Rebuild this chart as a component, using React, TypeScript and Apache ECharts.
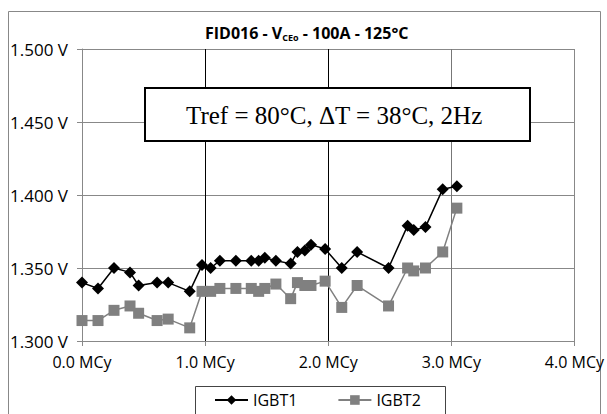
import React, { useEffect, useRef } from "react";
import * as echarts from "echarts";

const cycles = [0.0, 0.13, 0.26, 0.39, 0.46, 0.61, 0.7, 0.875, 0.975, 1.045, 1.12, 1.25, 1.375, 1.435, 1.485, 1.575, 1.695, 1.75, 1.81, 1.86, 1.975, 2.11, 2.235, 2.49, 2.645, 2.695, 2.79, 2.93, 3.045];
const igbt1 = [1.340, 1.336, 1.350, 1.347, 1.338, 1.340, 1.340, 1.334, 1.352, 1.350, 1.355, 1.355, 1.355, 1.355, 1.357, 1.355, 1.353, 1.361, 1.362, 1.366, 1.363, 1.350, 1.361, 1.350, 1.379, 1.376, 1.378, 1.404, 1.406];
const igbt2 = [1.314, 1.314, 1.321, 1.324, 1.319, 1.314, 1.315, 1.309, 1.334, 1.334, 1.336, 1.336, 1.336, 1.334, 1.336, 1.339, 1.329, 1.340, 1.338, 1.338, 1.341, 1.323, 1.338, 1.324, 1.350, 1.348, 1.350, 1.361, 1.391];
const seriesNames = ["IGBT1", "IGBT2"];
const annotation = "Tref = 80°C, ΔT = 38°C, 2Hz";

const FONT = "'Open Sans', 'Noto Sans', sans-serif";

export default function App() {
  const ref = useRef<HTMLDivElement>(null);
  useEffect(() => {
    if (!ref.current) return;
    const chart = echarts.init(ref.current, undefined, { renderer: "svg" });
    chart.setOption({
      animation: false,
      backgroundColor: "#fff",
      title: {
        text: "{b|FID016 - V}{s|CEo}{b| - 100A - 125°C}",
        left: 200,
        top: 19,
        textStyle: {
          rich: {
            b: { fontFamily: FONT, fontWeight: "bold", fontSize: 16, color: "#000" },
            s: { fontFamily: FONT, fontWeight: "bold", fontSize: 9, color: "#000", verticalAlign: "bottom", padding: [9, 0, 0, 0] },
          },
        },
      },
      grid: { left: 82, right: 32, top: 49, bottom: 73, containLabel: false },
      xAxis: {
        type: "value",
        min: 0,
        max: 4,
        interval: 1,
        axisLine: { show: true, lineStyle: { color: "#888", width: 1 } },
        axisTick: { show: true, length: 5, lineStyle: { color: "#888" } },
        axisLabel: {
          margin: 13,
          fontFamily: FONT,
          fontSize: 16,
          color: "#000",
          formatter: (v: number) => v.toFixed(1) + " MCy",
        },
        splitLine: { show: true, lineStyle: { color: ["#888", "#000", "#000", "#777", "#888"], width: 1 } },
      },
      yAxis: {
        type: "value",
        min: 1.3,
        max: 1.5,
        interval: 0.05,
        axisLine: { show: true, lineStyle: { color: "#888", width: 1 } },
        axisTick: { show: true, length: 5, lineStyle: { color: "#888" } },
        axisLabel: {
          margin: 14,
          fontFamily: FONT,
          fontSize: 17,
          color: "#000",
          formatter: (v: number) => v.toFixed(3) + " V",
        },
        splitLine: { show: true, lineStyle: { color: "#888", width: 1 } },
      },
      legend: {
        data: seriesNames,
        left: 214,
        top: 392,
        padding: 0,
        itemWidth: 33,
        itemHeight: 12,
        itemGap: 40,
        textStyle: { fontFamily: FONT, fontSize: 16, color: "#000" },
      },
      series: [
        {
          name: seriesNames[0],
          type: "line",
          data: cycles.map((c, i) => [c, igbt1[i]]),
          symbol: "diamond",
          symbolSize: 12,
          z: 3,
          itemStyle: { color: "#000" },
          lineStyle: { color: "#000", width: 1.5 },
        },
        {
          name: seriesNames[1],
          type: "line",
          data: cycles.map((c, i) => [c, igbt2[i]]),
          symbol: "rect",
          symbolSize: 11,
          z: 2,
          itemStyle: { color: "#808080" },
          lineStyle: { color: "#808080", width: 1.5 },
        },
      ],
      graphic: [
        {
          type: "rect",
          z: -10,
          silent: true,
          shape: { x: 8.5, y: 11.5, width: 592, height: 420 },
          style: { fill: "none", stroke: "#888", lineWidth: 1 },
        },
        {
          type: "rect",
          z: -5,
          silent: true,
          shape: { x: 195.5, y: 386.5, width: 250, height: 40 },
          style: { fill: "#fff", stroke: "#444", lineWidth: 1 },
        },
        {
          type: "rect",
          z: 50,
          silent: true,
          shape: { x: 145, y: 88, width: 385, height: 53 },
          style: { fill: "#fff", stroke: "#000", lineWidth: 2 },
        },
        {
          type: "text",
          z: 51,
          silent: true,
          x: 186,
          y: 115,
          style: {
            text: annotation,
            fontFamily: "'Liberation Serif', 'DejaVu Serif', serif",
            fontSize: 25,
            fill: "#000",
            align: "left",
            verticalAlign: "middle",
          },
        },
      ],
    });
    return () => chart.dispose();
  }, []);
  return <div ref={ref} style={{ position: "fixed", left: 0, top: 0, width: 607, height: 414 }} />;
}
